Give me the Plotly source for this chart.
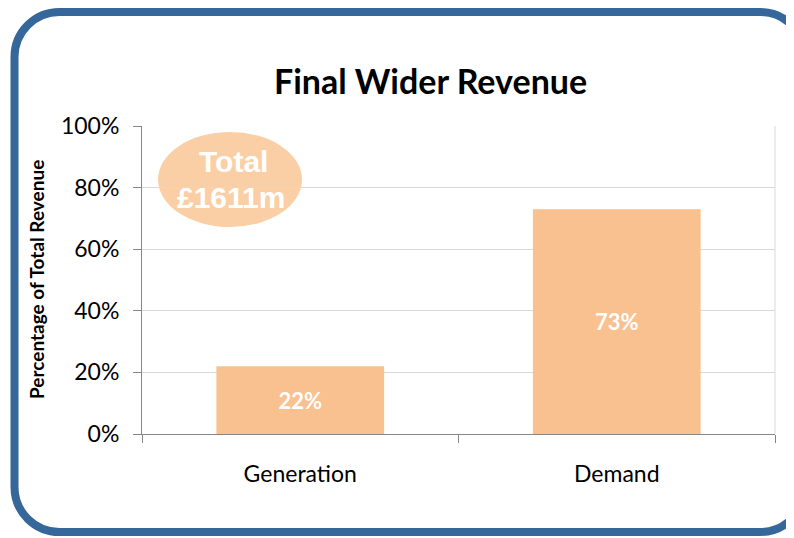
import plotly.graph_objects as go

categories = ["Generation", "Demand"]
shares = [0.22, 0.73]
bar_labels = ["22%", "73%"]
title_text = "Final Wider Revenue"
y_title = "Percentage of Total Revenue"
total_text = ["Total", "£1611m"]

O = 8  # page body margin offset
W, H = 794 - O, 538 - O
L, R, T, B = 142 - O, 775 - O, 126 - O, 434 - O  # plot area in figure pixels

def px(x):
    return (x - O - L) / (R - L)

def py(y):
    return (B - (y - O)) / (B - T)

fig = go.Figure()
fig.add_trace(go.Bar(
    x=categories, y=shares, width=0.53,
    marker=dict(color="#F9C18F", line=dict(width=0)),
    text=bar_labels, textposition="inside", insidetextanchor="middle",
    textfont=dict(family="Lato, sans-serif", size=22, color="white", weight="bold"),
    hoverinfo="skip",
))

# rounded border (open on the right, which lies off-page) in screen pixels -> paper
x0, y0, x1, y1, r = 14.5, 12, 805, 532, 45
k = 0.5523 * r
def P(x, y):
    return f"{px(x):.5f},{py(y):.5f}"
path = (
    f"M {P(x1, y0 + r)} "
    f"C {P(x1, y0 + r - k)} {P(x1 - r + k, y0)} {P(x1 - r, y0)} "
    f"L {P(x0 + r, y0)} "
    f"C {P(x0 + r - k, y0)} {P(x0, y0 + r - k)} {P(x0, y0 + r)} "
    f"L {P(x0, y1 - r)} "
    f"C {P(x0, y1 - r + k)} {P(x0 + r - k, y1)} {P(x0 + r, y1)} "
    f"L {P(x1 - r, y1)} "
    f"C {P(x1 - r + k, y1)} {P(x1, y1 - r + k)} {P(x1, y1 - r)}"
)
shapes = [
    dict(type="path", xref="paper", yref="paper", path=path,
         line=dict(color="#35679A", width=8), fillcolor="rgba(0,0,0,0)", layer="above"),
    dict(type="circle", xref="paper", yref="paper",
         x0=px(158), x1=px(302), y0=py(227), y1=py(132),
         fillcolor="#FBCFA6", line=dict(width=0), layer="below"),
    dict(type="line", xref="paper", yref="paper", x0=1, x1=1, y0=0, y1=1,
         line=dict(color="#D9D9D9", width=1), layer="below"),
]

def ann(text, x, y, size, family="Lato, sans-serif", color="black", angle=0):
    return dict(text=text, xref="paper", yref="paper", x=px(x), y=py(y),
                xanchor="center", yanchor="middle", showarrow=False, textangle=angle,
                font=dict(family=family, size=size, color=color))

annotations = [
    ann(f"<b>{title_text}</b>", 430, 80, 34),
    ann(f"<b>{y_title}</b>", 36, 280, 19, angle=-90),
    ann(f"<b>{total_text[0]}</b>", 233, 161, 30, "Liberation Sans, Arial, sans-serif", "white"),
    ann(f"<b>{total_text[1]}</b>", 231, 197, 30, "Liberation Sans, Arial, sans-serif", "white"),
]

fig.update_layout(
    width=W, height=H,
    margin=dict(l=L, r=W - R, t=T, b=H - B, pad=0),
    paper_bgcolor="white", plot_bgcolor="white",
    showlegend=False, bargap=0.47,
    shapes=shapes, annotations=annotations,
    font=dict(family="Lato, sans-serif", color="black"),
)
fig.update_yaxes(
    range=[0, 1], dtick=0.2, tickformat=".0%",
    showgrid=True, gridcolor="#D9D9D9", gridwidth=1,
    showline=True, linecolor="#868686", linewidth=1,
    ticks="outside", ticklen=8, tickcolor="#868686",
    ticklabelstandoff=9, zeroline=False,
    tickfont=dict(family="Lato, sans-serif", size=23, color="black"),
)
fig.update_xaxes(
    showline=True, linecolor="#868686", linewidth=1,
    ticks="outside", ticklen=8, tickcolor="#868686", tickson="boundaries",
    ticklabelstandoff=19,
    tickfont=dict(family="Lato, sans-serif", size=23, color="black"),
)

fig.write_html("out.html")
